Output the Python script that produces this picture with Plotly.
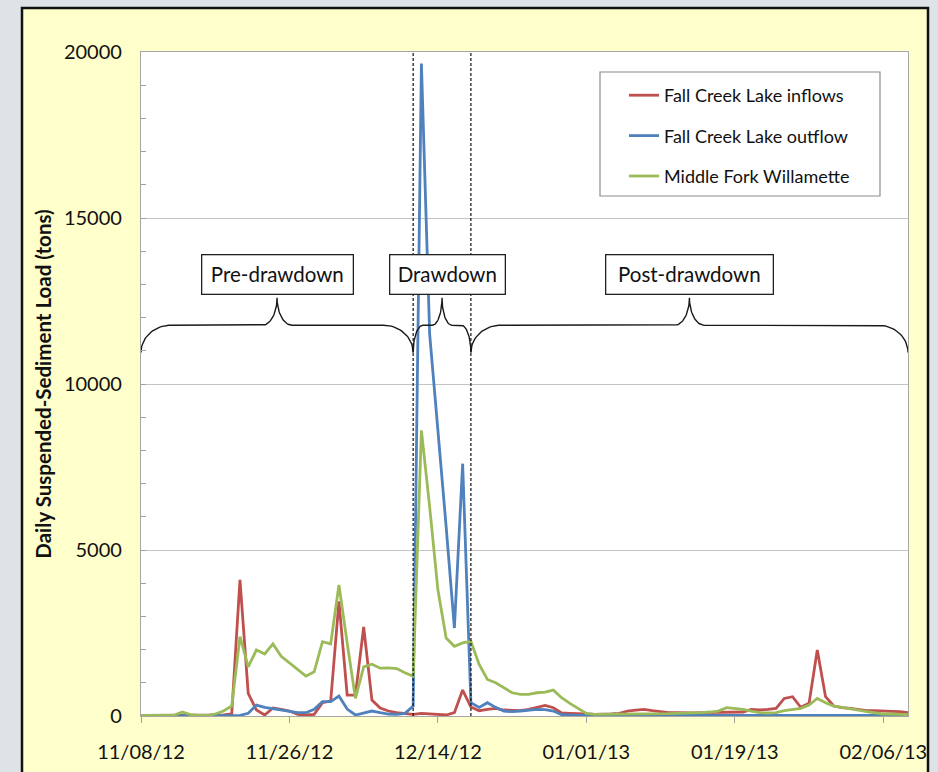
import numpy as np
import pandas as pd
import plotly.graph_objects as go

# ---------------- data (daily loads, tons) ----------------
start_date = "2012-11-08"
inflows = [20, 20, 20, 20, 20, 20, 20, 20, 20, 20,
           30, 60, 4100, 680, 180, 30, 240, 200, 150, 50,
           30, 50, 400, 450, 3450, 630, 630, 2680, 480, 240,
           150, 100, 80, 50, 80, 60, 40, 30, 100, 780,
           270, 160, 200, 230, 180, 170, 160, 200, 270, 320,
           250, 90, 80, 80, 60, 50, 50, 60, 80, 150,
           180, 200, 160, 120, 100, 100, 90, 90, 100, 100,
           100, 100, 110, 120, 200, 180, 200, 230, 530, 580,
           260, 380, 1990, 580, 300, 250, 230, 200, 160, 160,
           160, 140, 130, 100]
outflow = [0, 0, 0, 0, 0, 10, 10, 10, 10, 10,
           10, 20, 20, 80, 330, 260, 220, 170, 130, 100,
           100, 200, 430, 430, 600, 210, 30, 80, 150, 100,
           60, 50, 80, 300, 19650, 11500, 8700, 5700, 2650, 7600,
           400, 260, 400, 260, 150, 130, 150, 170, 200, 190,
           150, 40, 20, 20, 20, 20, 20, 20, 20, 30,
           30, 30, 30, 30, 30, 30, 30, 30, 30, 30,
           30, 30, 30, 30, 30, 30, 40, 40, 40, 40,
           40, 40, 40, 40, 40, 40, 30, 30, 30, 30,
           20, 20, 20, 20]
middle_fork = [20, 20, 20, 20, 20, 120, 40, 20, 20, 60,
               150, 300, 2390, 1480, 1990, 1870, 2170, 1800, 1600, 1400,
               1200, 1330, 2240, 2170, 3950, 2200, 530, 1480, 1560, 1440,
               1450, 1430, 1300, 1200, 8600, 6300, 3800, 2350, 2100, 2200,
               2250, 1550, 1100, 1000, 850, 700, 650, 650, 700, 720,
               780, 550, 380, 220, 80, 50, 50, 50, 50, 60,
               60, 60, 60, 70, 70, 80, 80, 90, 100, 120,
               150, 250, 230, 200, 150, 100, 90, 100, 160, 200,
               230, 330, 530, 400, 300, 260, 230, 180, 130, 90,
               60, 60, 50, 40]

series_names = ["Fall Creek Lake inflows", "Fall Creek Lake outflow", "Middle Fork Willamette"]
tick_labels = ["11/08/12", "11/26/12", "12/14/12", "01/01/13", "01/19/13", "02/06/13"]
y_ticks = [0, 5000, 10000, 15000, 20000]

drawdown_start = "2012-12-11"
drawdown_end = "2012-12-18"
axis_end = "2013-02-09"
period_labels = ["Pre-drawdown", "Drawdown", "Post-drawdown"]

# ---------------- derived ----------------
start = pd.Timestamp(start_date)
dates = pd.date_range(start, periods=len(inflows), freq="D")
tick_vals = pd.to_datetime(tick_labels, format="%m/%d/%y")
d_start = pd.Timestamp(drawdown_start)
d_end = pd.Timestamp(drawdown_end)
x_end = pd.Timestamp(axis_end)

def day(ts):
    return (ts - start) / pd.Timedelta(days=1)

bounds = [(0.0, day(d_start)), (day(d_start), day(d_end)), (day(d_end), day(x_end))]

colors = ["#C0504D", "#4F81BD", "#9BBB59"]
FONT = "Lato"

fig = go.Figure()
for name, vals, col in zip(series_names, [inflows, outflow, middle_fork], colors):
    fig.add_trace(go.Scatter(x=dates, y=vals, mode="lines", name=name,
                             legendgroup=name,
                             line=dict(color=col, width=2.8)))

# curly braces
def brace(x0, x1, y_end=10950, y_mid=11770, y_peak=12600, a=3.6, b=1.8):
    half = (x1 - x0) / 2
    a = min(a, half * 0.34)
    b = min(b, half * 0.34)
    t1 = np.linspace(np.pi, np.pi / 2, 25)
    s1x = x0 + a + a * np.cos(t1)
    s1y = y_end + (y_mid - y_end) * np.sin(t1)
    xm = (x0 + x1) / 2
    t2 = np.linspace(-np.pi / 2, 0, 25)
    s2x = xm - b + b * np.cos(t2)
    s2y = y_peak + (y_peak - y_mid) * np.sin(t2)
    lx = np.concatenate([s1x, s2x])
    ly = np.concatenate([s1y, s2y])
    rx = (x0 + x1 - lx)[::-1]
    ry = ly[::-1]
    return np.concatenate([lx, rx]), np.concatenate([ly, ry])

for (b0, b1) in bounds:
    bx, by = brace(b0, b1)
    fig.add_trace(go.Scatter(x=start + pd.to_timedelta(bx, unit="D"), y=by,
                             mode="lines", line=dict(color="#1a1a1a", width=1.4),
                             showlegend=False, hoverinfo="skip"))

# period label boxes
box_w = [150, 114, 166]
box_shift = [0, 5, 0]
for lab, (b0, b1), w, sh in zip(period_labels, bounds, box_w, box_shift):
    fig.add_annotation(x=start + pd.Timedelta(days=(b0 + b1) / 2), y=13310,
                       text=lab, showarrow=False, xshift=sh,
                       font=dict(family=FONT, size=20.5, color="#111"),
                       bgcolor="white", bordercolor="#222", borderwidth=1.3,
                       width=w, height=38, borderpad=0)

# frame & plot background
L, R, T, B = 141, 908, 52, 716
PW, PH = R - L, B - T
def px_x(p):
    return (p - L) / PW
def px_y(p):
    return (B - p) / PH

shapes = [
    dict(type="rect", xref="paper", yref="paper", x0=px_x(22), x1=px_x(928), y0=px_y(790),
         y1=px_y(8), fillcolor="#FFFFCC", line=dict(color="#111", width=2.5), layer="below"),
    dict(type="rect", xref="paper", yref="paper", x0=0, x1=1, y0=0, y1=1,
         fillcolor="white", line=dict(width=0), layer="below"),
    # legend box
    dict(type="rect", xref="paper", yref="paper", x0=px_x(600), x1=px_x(880),
         y0=px_y(196), y1=px_y(72), fillcolor="white",
         line=dict(color="#8c8c8c", width=1.2), layer="below"),
]
for d in [d_start, d_end]:
    shapes.append(dict(type="line", xref="x", yref="y", x0=d, x1=d, y0=0, y1=y_ticks[-1],
                       line=dict(color="#111", width=1.2, dash="3px,2px"), layer="above"))
fig.update_layout(shapes=shapes)

fig.update_layout(
    width=938, height=772,
    margin=dict(l=L, r=938 - R, t=T, b=772 - B, autoexpand=False),
    paper_bgcolor="#DDE3E6",
    plot_bgcolor="white",
    font=dict(family=FONT, color="#111"),
    legend=dict(x=px_x(624), y=px_y(77), xanchor="left", yanchor="top",
                bgcolor="rgba(0,0,0,0)", borderwidth=0, itemwidth=30,
                font=dict(family=FONT, size=18, color="#111"),
                tracegroupgap=14, traceorder="grouped"),
    showlegend=True,
)
fig.update_xaxes(
    type="date", range=[start, x_end],
    tickmode="array", tickvals=tick_vals, ticktext=tick_labels,
    ticks="outside", ticklen=6, tickcolor="#a0a0a0",
    tickfont=dict(family=FONT, size=20, color="#111"),
    ticklabelstandoff=12,
    showline=True, linecolor="#a6a6a6", linewidth=1.2, mirror=True,
    showgrid=False, zeroline=False,
)
fig.update_yaxes(
    range=[0, y_ticks[-1]], tickmode="array", tickvals=y_ticks,
    ticktext=[str(v) for v in y_ticks],
    ticks="inside", ticklen=5, tickcolor="#a0a0a0",
    minor=dict(dtick=1000, ticks="inside", ticklen=5, tickcolor="#a0a0a0", showgrid=False),
    tickfont=dict(family=FONT, size=20, color="#111"),
    ticklabelstandoff=14,
    showline=True, linecolor="#a6a6a6", linewidth=1.2, mirror=True,
    showgrid=True, gridcolor="#c4c4c4", gridwidth=1, zeroline=False,
    title=dict(text="<b>Daily Suspended-Sediment Load (tons)</b>",
               font=dict(family=FONT, size=20.5, color="#111"), standoff=6),
)

fig.write_html("out.html",
               config={"displayModeBar": False},
               post_script="document.body.style.margin='0';"
                           "document.body.style.background='#DDE3E6';")
